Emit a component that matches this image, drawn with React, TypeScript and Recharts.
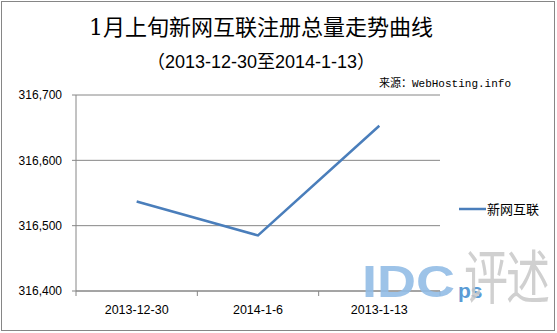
import React from 'react';
import { LineChart, Line, XAxis, YAxis, CartesianGrid, Legend } from 'recharts';

const categories = ['2013-12-30', '2014-1-6', '2013-1-13'];
const totals = [316537, 316485, 316653];
const yTicks = [316400, 316500, 316600, 316700];
const seriesName = '新网互联';

const W = 557;
const H = 333;
const margin = { top: 95, right: 117, bottom: 12, left: 0 };
const yAxisWidth = 76;
const halfBand = (W - margin.right - margin.left - yAxisWidth) / categories.length / 2;

const GRAY = '#868686';
const BLUE = '#4a7ebb';
const SANS = '"Liberation Sans", Arial, "Noto Sans CJK SC", sans-serif';

const data = categories.map((date, i) => ({ date, value: totals[i] }));

const DateTick = (props: any) => {
  const { x, y, payload, index } = props;
  const axisY = y - 5;
  return (
    <g>
      <line x1={x - halfBand} x2={x - halfBand} y1={axisY} y2={axisY + 5} stroke={GRAY} />
      {index === categories.length - 1 && (
        <line x1={x + halfBand} x2={x + halfBand} y1={axisY} y2={axisY + 5} stroke={GRAY} />
      )}
      <text x={x} y={axisY + 23} textAnchor="middle" fontSize={12.5} fontFamily={SANS} fill="#000">
        {payload.value}
      </text>
    </g>
  );
};

const LegendBox = () => (
  <div style={{ display: 'flex', alignItems: 'center', fontFamily: SANS, fontSize: 13, color: '#000' }}>
    <svg width={28} height={10}>
      <line x1={0} x2={27} y1={5} y2={5} stroke={BLUE} strokeWidth={2.5} />
    </svg>
    <span>{seriesName}</span>
  </div>
);

const App = () => {
  return (
    <div style={{ position: 'absolute', left: 0, top: 0, width: W, height: H, background: '#fff' }}>
      <LineChart width={W} height={H} data={data} margin={margin}>
        <CartesianGrid vertical={false} stroke={GRAY} />
        <XAxis
          dataKey="date"
          scale="band"
          height={30}
          axisLine={{ stroke: GRAY }}
          tickLine={false}
          tickSize={5}
          tickMargin={0}
          tick={<DateTick />}
          interval={0}
        />
        <YAxis
          width={yAxisWidth}
          domain={[316400, 316700]}
          ticks={yTicks}
          axisLine={{ stroke: GRAY }}
          tickLine={{ stroke: GRAY }}
          tickSize={4}
          tickMargin={10}
          tick={{ fill: '#000', fontSize: 12, fontFamily: SANS }}
          tickFormatter={(v: number) => v.toLocaleString('en-US')}
        />
        <Legend
          layout="horizontal"
          verticalAlign="middle"
          align="center"
          wrapperStyle={{ left: 459, top: 199, width: 'auto' }}
          content={<LegendBox />}
        />
        <Line
          type="linear"
          dataKey="value"
          name={seriesName}
          stroke={BLUE}
          strokeWidth={2.5}
          dot={false}
          isAnimationActive={false}
        />
      </LineChart>

      <div style={{ position: 'absolute', left: 1, top: 1, width: 554, height: 330, border: `1px solid ${GRAY}`, boxSizing: 'border-box', pointerEvents: 'none' }} />

      <div style={{ position: 'absolute', left: 0, top: 14, width: 522, textAlign: 'center', fontFamily: '"DejaVu Serif", "Noto Sans CJK SC", serif', fontSize: 22, color: '#000', lineHeight: '28px' }}>
        1月上旬新网互联注册总量走势曲线
      </div>
      <div style={{ position: 'absolute', left: 0, top: 50, width: 522, textAlign: 'center', fontFamily: SANS, fontSize: 18, color: '#000', lineHeight: '24px' }}>
        （2013-12-30至2014-1-13）
      </div>
      <div style={{ position: 'absolute', right: 46, top: 77, fontFamily: '"Liberation Mono", "Noto Sans CJK SC", monospace', fontSize: 11, color: '#000', lineHeight: '14px' }}>
        来源：WebHosting.info
      </div>

      <div style={{ position: 'absolute', left: 362, top: 258, fontFamily: SANS, fontWeight: 'bold', fontSize: 45, color: '#93bde6', lineHeight: '48px', transform: 'scaleX(1.2)', transformOrigin: 'left top', opacity: 0.9 }}>
        IDC
      </div>
      <div style={{ position: 'absolute', left: 458, top: 279, fontFamily: SANS, fontWeight: 'bold', fontSize: 21, color: '#5b9bd5', lineHeight: '24px' }}>
        ps
      </div>
      <div style={{ position: 'absolute', left: 464, top: 240, fontFamily: '"Noto Sans CJK SC", sans-serif', fontSize: 44, color: '#c8c8c8', lineHeight: '50px', letterSpacing: -2, transform: 'scaleY(1.35)', transformOrigin: 'left top', opacity: 0.85 }}>
        评述
      </div>
    </div>
  );
};

export default App;
